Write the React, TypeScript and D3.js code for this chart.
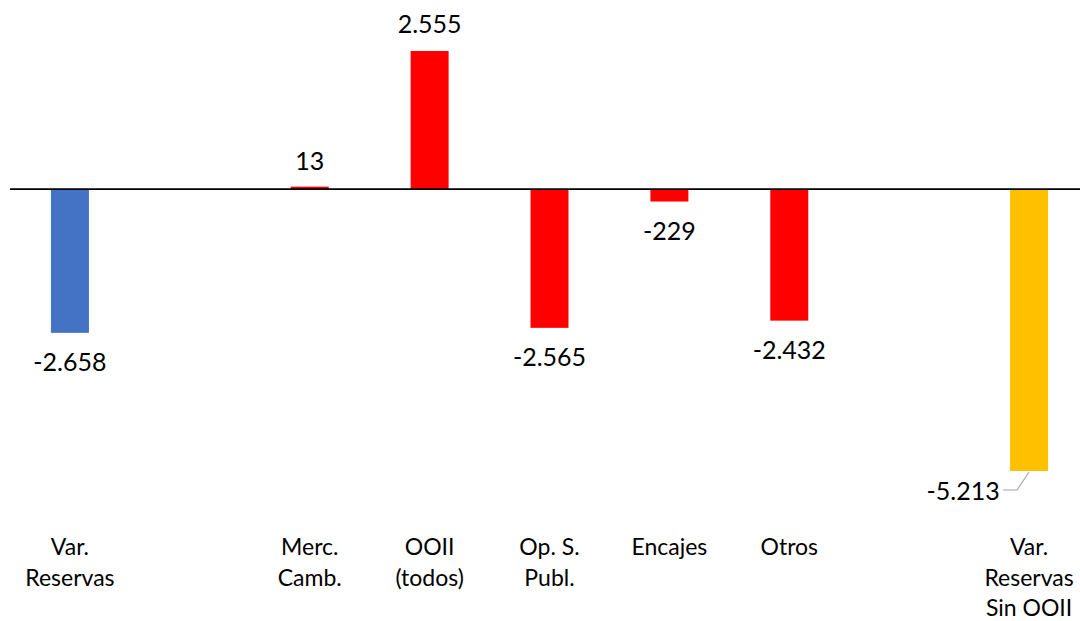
import React from "react";
import * as d3 from "d3";

const categories: string[][] = [
  ["Var.", "Reservas"],
  [],
  ["Merc.", "Camb."],
  ["OOII", "(todos)"],
  ["Op. S.", "Publ."],
  ["Encajes"],
  ["Otros"],
  [],
  ["Var.", "Reservas", "Sin OOII"],
];
const values: (number | null)[] = [-2658, null, 13, 2555, -2565, -229, -2432, null, -5213];
const colors: string[] = ["#4472C4", "", "#FF0000", "#FF0000", "#FF0000", "#FF0000", "#FF0000", "", "#FFC000"];

const W = 1080;
const H = 621;
const FONT = "Lato, 'Open Sans', sans-serif";

const locale = d3.formatLocale({
  decimal: ",",
  thousands: ".",
  grouping: [3],
  currency: ["", ""],
  minus: "-",
});
const fmt = locale.format(",d");

export default function App() {
  const idx = categories.map((_, i) => String(i));
  const x = d3.scaleBand<string>().domain(idx).range([10, 1089]).paddingInner(0.683).paddingOuter(0.683 / 2);
  const nums = values.filter((v): v is number => v !== null);
  const y = d3.scaleLinear().domain([d3.min(nums)!, d3.max(nums)!]).range([471, 51]);
  const y0 = y(0);
  const bw = x.bandwidth();

  return (
    <svg width={W} height={H} style={{ position: "absolute", left: 0, top: 0, background: "#fff" }}>
      <rect x={0} y={0} width={W} height={H} fill="#fff" />
      {values.map((v, i) => {
        if (v === null) return null;
        const x0 = x(String(i))!;
        const h = Math.max(Math.abs(y(v) - y0), 2.5);
        const top = v >= 0 ? y0 - h : y0;
        return <rect key={"b" + i} x={x0} y={top} width={bw} height={h} fill={colors[i]} />;
      })}
      <line x1={10} x2={1080} y1={y0} y2={y0} stroke="#000" strokeWidth={1.6} />
      {values.map((v, i) => {
        if (v === null) return null;
        const cx = x(String(i))! + bw / 2;
        const last = i === values.length - 1;
        if (last) {
          const by = y(v);
          return (
            <g key={"l" + i}>
              <polyline
                points={`${cx},${by + 1} ${cx - 12},${by + 19} ${cx - 26},${by + 19}`}
                fill="none"
                stroke="#A6A6A6"
                strokeWidth={1.2}
              />
              <text x={cx - 66} y={by + 29} textAnchor="middle" fontFamily={FONT} fontSize={25} fill="#000">
                {fmt(v)}
              </text>
            </g>
          );
        }
        const ty = v >= 0 ? y(v) - 18.5 : y(v) + 38;
        return (
          <text key={"l" + i} x={cx} y={ty} textAnchor="middle" fontFamily={FONT} fontSize={25} fill="#000">
            {fmt(v)}
          </text>
        );
      })}
      {categories.map((lines, i) => {
        const cx = x(String(i))! + bw / 2;
        return (
          <text key={"c" + i} textAnchor="middle" fontFamily={FONT} fontSize={23} fill="#000">
            {lines.map((t, j) => (
              <tspan key={j} x={cx} y={555 + j * 30.5}>
                {t}
              </tspan>
            ))}
          </text>
        );
      })}
    </svg>
  );
}
